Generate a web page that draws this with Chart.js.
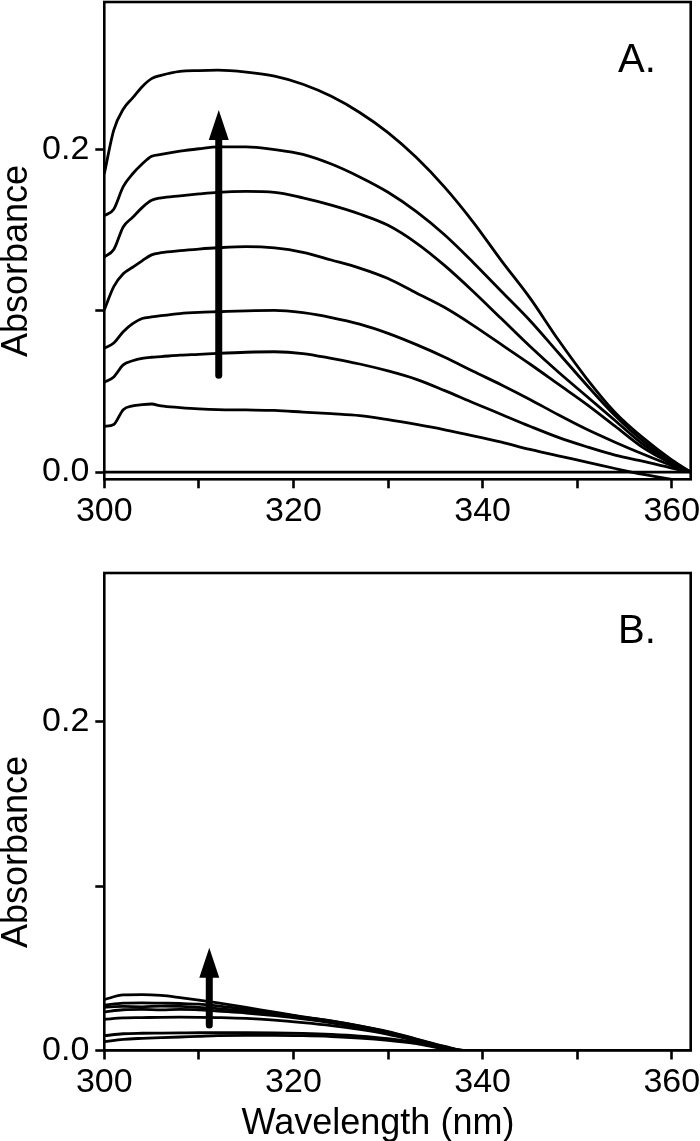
<!DOCTYPE html>
<html>
<head>
<meta charset="utf-8">
<script src="https://cdn.jsdelivr.net/npm/chart.js@4.4.0/dist/chart.umd.min.js"></script>
<style>
  html, body { margin: 0; padding: 0; background: #fff; }
  #wrapA { position: absolute; left: 0; top: 0; width: 700px; height: 545px; }
  #wrapB { position: absolute; left: 0; top: 560px; width: 700px; height: 581px; }
</style>
</head>
<body>
<div id="wrapA"><canvas id="panelA"></canvas></div>
<div id="wrapB"><canvas id="panelB"></canvas></div>
<script>
// panel A : wavelength grid and spectra (bottom to top)
var waveA = [300, 301, 302, 303, 304, 305, 306, 308, 310, 312, 315, 318, 321, 324, 327, 330, 333, 336, 339, 342, 345, 348, 351, 354, 357, 360, 362];
var absA0 = [0, 0, 0, 0, 0, 0, 0, 0, 0, 0, 0, 0, 0, 0, 0, 0, 0, 0, 0, 0, 0, 0, 0, 0, 0, 0, 0];
var absA1 = [0.0284, 0.0295, 0.0387, 0.041, 0.0418, 0.0422, 0.041, 0.040, 0.0392, 0.0387, 0.0385, 0.0382, 0.0372, 0.0362, 0.035, 0.0325, 0.0295, 0.0262, 0.0225, 0.0185, 0.014, 0.010, 0.0062, 0.0022, -0.0015, -0.0045, -0.006];
var absA2 = [0.0556, 0.059, 0.0665, 0.069, 0.0705, 0.0712, 0.0716, 0.0725, 0.073, 0.0736, 0.0743, 0.0746, 0.0735, 0.0705, 0.067, 0.0627, 0.0575, 0.0505, 0.043, 0.0357, 0.0284, 0.0215, 0.0157, 0.0105, 0.0066, 0.0025, 0];
var absA3 = [0.0768, 0.080, 0.087, 0.092, 0.0952, 0.0962, 0.097, 0.0983, 0.099, 0.0994, 0.100, 0.1003, 0.0988, 0.0958, 0.0917, 0.086, 0.079, 0.0712, 0.0625, 0.054, 0.045, 0.0355, 0.0265, 0.0185, 0.011, 0.004, 0];
var absA4 = [0.1005, 0.115, 0.123, 0.127, 0.131, 0.1347, 0.136, 0.1373, 0.1383, 0.1391, 0.1398, 0.139, 0.1363, 0.1315, 0.1265, 0.120, 0.111, 0.102, 0.091, 0.079, 0.067, 0.0545, 0.042, 0.0285, 0.015, 0.0052, 0];
var absA5 = [0.1335, 0.138, 0.152, 0.158, 0.164, 0.1685, 0.170, 0.1713, 0.1725, 0.1735, 0.174, 0.1735, 0.170, 0.1655, 0.160, 0.153, 0.142, 0.128, 0.112, 0.095, 0.078, 0.062, 0.047, 0.032, 0.017, 0.006, 0];
var absA6 = [0.159, 0.163, 0.177, 0.185, 0.191, 0.1958, 0.197, 0.199, 0.2005, 0.2017, 0.2017, 0.200, 0.197, 0.191, 0.183, 0.1735, 0.1615, 0.147, 0.130, 0.112, 0.094, 0.074, 0.054, 0.035, 0.019, 0.0068, 0];
var absA7 = [0.185, 0.212, 0.225, 0.232, 0.239, 0.244, 0.246, 0.2485, 0.249, 0.2492, 0.248, 0.2455, 0.2405, 0.233, 0.223, 0.2105, 0.195, 0.1765, 0.155, 0.131, 0.108, 0.082, 0.058, 0.037, 0.021, 0.0075, 0];

// panel B
var waveB = [300, 302, 304, 306, 308, 310, 312, 315, 318, 321, 324, 327, 330, 333, 336, 338, 340, 362];
var absB0 = [0, 0, 0, 0, 0, 0, 0, 0, 0, 0, 0, 0, 0, 0, 0, 0, 0, 0];
var absB1 = [0.0054, 0.0068, 0.0074, 0.0078, 0.0082, 0.0086, 0.009, 0.0092, 0.0092, 0.009, 0.0085, 0.0076, 0.0062, 0.0042, 0.001, 0, 0, 0];
var absB2 = [0.009, 0.0102, 0.0105, 0.0106, 0.0107, 0.0108, 0.0108, 0.0108, 0.0107, 0.0104, 0.0098, 0.0088, 0.0072, 0.0048, 0.0012, 0, 0, 0];
var absB3 = [0.019, 0.0198, 0.020, 0.0202, 0.0203, 0.0202, 0.020, 0.0195, 0.0185, 0.017, 0.0152, 0.0128, 0.0098, 0.0058, 0.0015, 0, 0, 0];
var absB4 = [0.0235, 0.0248, 0.025, 0.0247, 0.025, 0.0248, 0.024, 0.0228, 0.0212, 0.0192, 0.0168, 0.0138, 0.0104, 0.0062, 0.0018, 0, 0, 0];
var absB5 = [0.0263, 0.0268, 0.0266, 0.027, 0.0268, 0.0262, 0.0255, 0.024, 0.022, 0.0198, 0.0173, 0.0143, 0.0108, 0.0065, 0.002, 0, 0, 0];
var absB6 = [0.0277, 0.0288, 0.029, 0.0288, 0.0286, 0.0282, 0.0272, 0.025, 0.0228, 0.0203, 0.0178, 0.0148, 0.0112, 0.0068, 0.0022, 0, 0, 0];
var absB7 = [0.031, 0.0338, 0.034, 0.0335, 0.0322, 0.0307, 0.029, 0.0262, 0.0233, 0.0205, 0.018, 0.015, 0.0115, 0.007, 0.0025, 0, 0, 0];

// ticks
var xTicks = [300, 310, 320, 330, 340, 350, 360];
var xTickLabels = ['300', '', '320', '', '340', '', '360'];
var yTicks = [0, 0.1, 0.2];
var yTickLabels = ['0.0', '', '0.2'];

// arrows: [wavelength, from, to]
var arrowA = [312.1, 0.060, 0.2245];
var arrowB = [311.1, 0.0155, 0.0625];

Chart.defaults.font.family = '"Liberation Sans", Arial, sans-serif';
Chart.defaults.color = '#000';

var framePlugin = {
  id: 'frame',
  afterDatasetsDraw: function(chart, args, opts) {
    var a = chart.chartArea;
    var ctx = chart.ctx;
    ctx.save();
    ctx.strokeStyle = '#000';
    ctx.fillStyle = '#000';
    ctx.lineWidth = 2.6;
    ctx.strokeRect(a.left, a.top, a.right - a.left, a.bottom - a.top);

    // arrow
    var px = chart.scales.x.getPixelForValue(opts.arrow[0]);
    var yBot = chart.scales.y.getPixelForValue(opts.arrow[1]);
    var yTip = chart.scales.y.getPixelForValue(opts.arrow[2]);
    ctx.lineWidth = 7;
    ctx.lineCap = 'round';
    ctx.beginPath();
    ctx.moveTo(px, yBot);
    ctx.lineTo(px, yTip + 24);
    ctx.stroke();
    ctx.beginPath();
    ctx.moveTo(px, yTip);
    ctx.lineTo(px - 10, yTip + 30);
    ctx.lineTo(px + 10, yTip + 30);
    ctx.closePath();
    ctx.fill();

    // panel letter
    ctx.font = '40px "Liberation Sans"';
    ctx.textAlign = 'left';
    ctx.textBaseline = 'alphabetic';
    ctx.fillText(opts.letter, 618, a.top + 70);

    // y title
    ctx.font = '36px "Liberation Sans"';
    ctx.save();
    ctx.translate(27, opts.yTitleY);
    ctx.rotate(-Math.PI / 2);
    ctx.textAlign = 'center';
    ctx.fillText('Absorbance', 0, 0);
    ctx.restore();

    if (opts.xTitle) {
      ctx.textAlign = 'center';
      ctx.fillText(opts.xTitle, 378, opts.xTitleY);
    }
    ctx.restore();
  }
};

function noPad(s) {
  s.paddingTop = 0;
  s.paddingBottom = 0;
  s.paddingLeft = 0;
  s.paddingRight = 0;
}

function makePanel(id, wave, series, yMin, yMax, pad, xHeight, extras) {
  var datasets = series.map(function(s) {
    return {
      data: s.map(function(v, i) { return { x: wave[i], y: v }; }),
      borderColor: '#000',
      borderWidth: 2.8,
      pointRadius: 0,
      cubicInterpolationMode: 'monotone',
      fill: false
    };
  });
  new Chart(document.getElementById(id), {
    type: 'line',
    data: { datasets: datasets },
    options: {
      responsive: true,
      maintainAspectRatio: false,
      animation: false,
      layout: { padding: pad, autoPadding: false },
      plugins: { legend: { display: false }, tooltip: { enabled: false }, frame: extras },
      scales: {
        x: {
          type: 'linear', min: 300, max: 362,
          afterBuildTicks: function(s) { s.ticks = xTicks.map(function(v) { return { value: v }; }); },
          afterFit: function(s) { s.height = xHeight; noPad(s); },
          ticks: {
            callback: function(v, i) { return xTickLabels[i]; },
            font: { size: 34 }, color: '#000', padding: 3, maxRotation: 0, autoSkip: false
          },
          grid: { drawOnChartArea: false, drawTicks: true, tickLength: 9, tickWidth: 2.6, tickColor: '#000' },
          border: { display: false }
        },
        y: {
          type: 'linear', min: yMin, max: yMax,
          afterBuildTicks: function(s) { s.ticks = yTicks.map(function(v) { return { value: v }; }); },
          afterFit: function(s) { s.width = 104.3; noPad(s); },
          ticks: {
            callback: function(v, i) { return yTickLabels[i]; },
            font: { size: 34 }, color: '#000', padding: 6, autoSkip: false
          },
          grid: { drawOnChartArea: false, drawTicks: true, tickLength: 9, tickWidth: 2.6, tickColor: '#000' },
          border: { display: false }
        }
      }
    },
    plugins: [framePlugin]
  });
}

makePanel('panelA', waveA, [absA0, absA1, absA2, absA3, absA4, absA5, absA6, absA7],
  -0.0045, 0.2915, { top: 2, right: 9.3, left: 0, bottom: 0 }, 65.7,
  { arrow: arrowA, letter: 'A.', yTitleY: 261 });

makePanel('panelB', waveB, [absB0, absB1, absB2, absB3, absB4, absB5, absB6, absB7],
  0, 0.2905, { top: 13, right: 9.3, left: 0, bottom: 0 }, 90.5,
  { arrow: arrowB, letter: 'B.', yTitleY: 292, xTitle: 'Wavelength (nm)', xTitleY: 574 });
</script>
</body>
</html>
